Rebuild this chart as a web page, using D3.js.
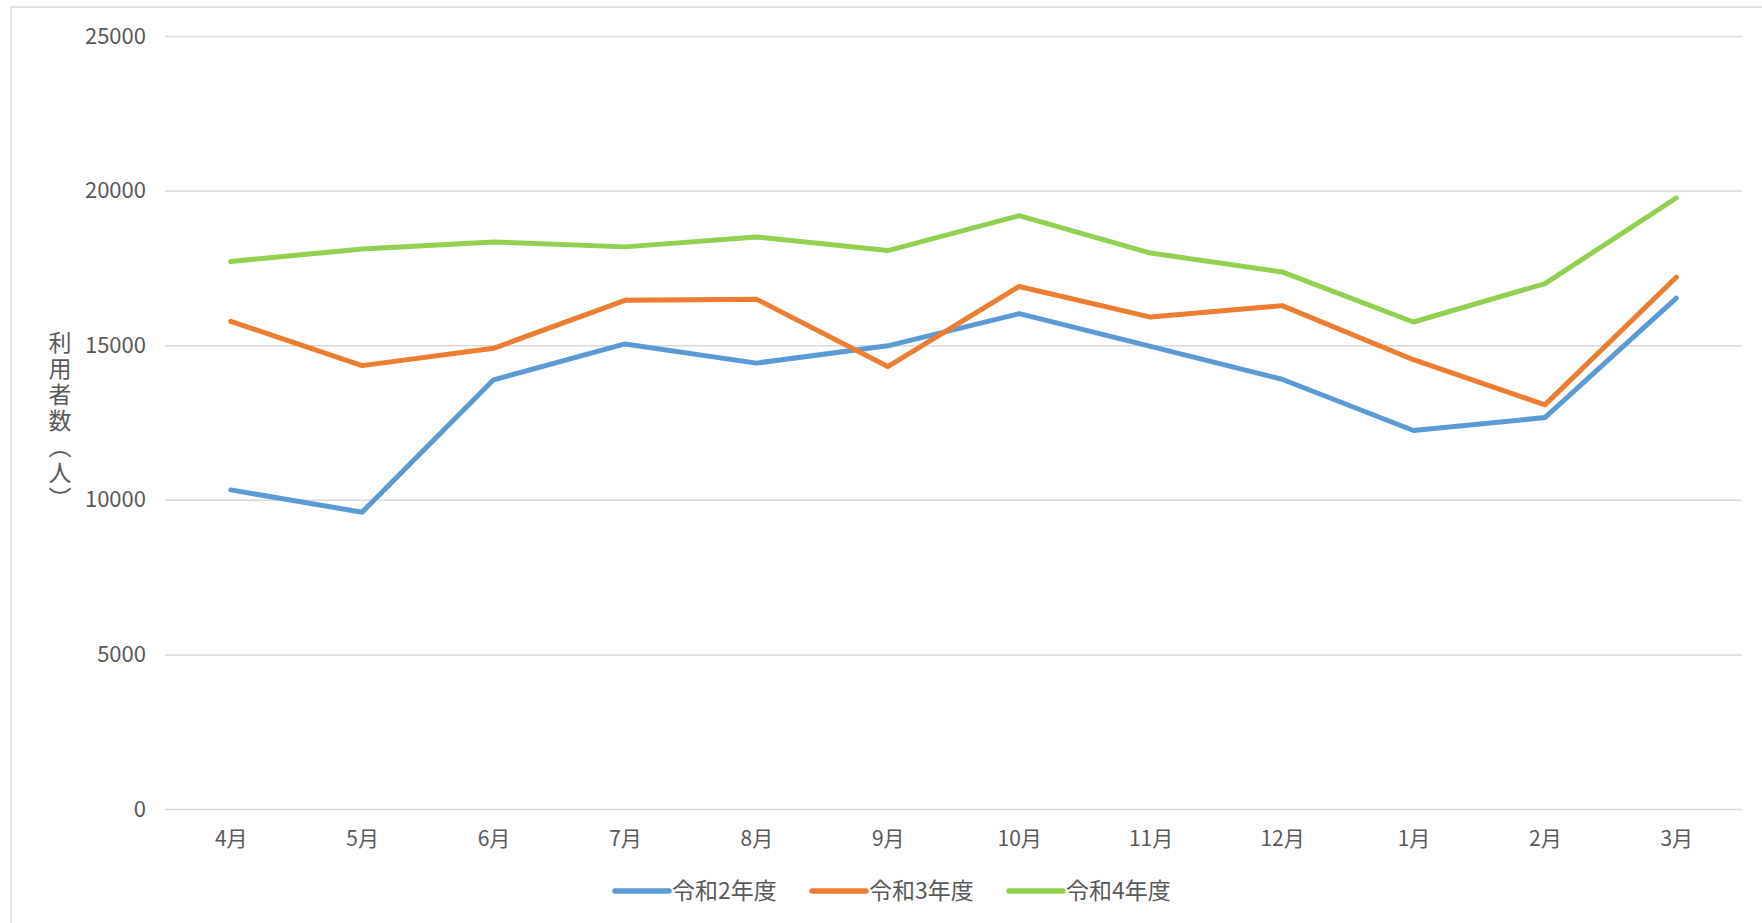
<!DOCTYPE html>
<html>
<head>
<meta charset="utf-8">
<script src="https://cdn.jsdelivr.net/npm/d3@7"></script>
<style>
  html, body { margin: 0; padding: 0; background: #fff; }
  svg text { font-family: "Noto Sans CJK JP", "Noto Sans", sans-serif; }
</style>
</head>
<body>
<svg id="chart" width="1762" height="923"></svg>
<script>
// 月別利用者数
var months = ["4月", "5月", "6月", "7月", "8月", "9月", "10月", "11月", "12月", "1月", "2月", "3月"];
var seriesNames = ["令和2年度", "令和3年度", "令和4年度"];
var r2 = [10320, 9600, 13880, 15040, 14420, 14980, 16020, 14960, 13900, 12240, 12660, 16520];
var r3 = [15770, 14340, 14900, 16450, 16490, 14310, 16900, 15910, 16280, 14530, 13070, 17200];
var r4 = [17710, 18110, 18340, 18180, 18500, 18060, 19190, 17980, 17370, 15750, 16990, 19760];
var yTicks = [0, 5000, 10000, 15000, 20000, 25000];

var colors = ["#5B9BD5", "#ED7D31", "#92D050"],
    series = [r2, r3, r4];

var svg = d3.select("#chart"),
    width = +svg.attr("width"),
    height = +svg.attr("height");

var plot = { left: 165, right: 1742, top: 36, bottom: 809 };

var x = d3.scalePoint()
    .domain(months)
    .range([plot.left, plot.right])
    .padding(0.5);

var y = d3.scaleLinear()
    .domain([0, 25000])
    .range([plot.bottom, plot.top]);

// chart border
svg.append("rect")
    .attr("x", 11)
    .attr("y", 7)
    .attr("width", width)
    .attr("height", height)
    .attr("fill", "none")
    .attr("stroke", "#D9D9D9")
    .attr("stroke-width", 1.5);

// gridlines + y labels
var yAxis = d3.axisLeft(y)
    .tickValues(yTicks)
    .tickFormat(d3.format("d"))
    .tickSize(-(plot.right - plot.left))
    .tickPadding(19);

var gy = svg.append("g")
    .attr("transform", "translate(" + plot.left + ",0)")
    .call(yAxis);
gy.select(".domain").remove();
gy.selectAll(".tick line")
    .attr("stroke", "#D9D9D9")
    .attr("stroke-width", 1.5);
gy.selectAll(".tick text")
    .attr("fill", "#595959")
    .style("font-size", "22px");

// x labels
var xAxis = d3.axisBottom(x)
    .tickSize(0)
    .tickPadding(22);

var gx = svg.append("g")
    .attr("transform", "translate(0," + plot.bottom + ")")
    .call(xAxis);
gx.select(".domain").remove();
gx.selectAll(".tick text")
    .attr("fill", "#595959")
    .style("font-size", "21px");

// y title (vertical)
svg.append("text")
    .attr("x", 60)
    .attr("y", 422)
    .attr("text-anchor", "middle")
    .attr("fill", "#595959")
    .style("font-size", "23px")
    .style("letter-spacing", "3px")
    .style("writing-mode", "vertical-rl")
    .style("text-orientation", "upright")
    .text("利用者数（人）");

// lines
var line = d3.line()
    .x(function (d, i) { return x(months[i]); })
    .y(function (d) { return y(d); });

series.forEach(function (s, i) {
    svg.append("path")
        .datum(s)
        .attr("d", line)
        .attr("fill", "none")
        .attr("stroke", colors[i])
        .attr("stroke-width", 5)
        .attr("stroke-linejoin", "round")
        .attr("stroke-linecap", "round");
});

// legend
var legend = svg.append("g")
    .attr("transform", "translate(615,891)");

seriesNames.forEach(function (name, i) {
    var g = legend.append("g")
        .attr("transform", "translate(" + (i * 197) + ",0)");
    g.append("line")
        .attr("x1", 0)
        .attr("x2", 54)
        .attr("stroke", colors[i])
        .attr("stroke-width", 5.5)
        .attr("stroke-linecap", "round");
    g.append("text")
        .attr("x", 57)
        .attr("dy", "0.35em")
        .attr("fill", "#595959")
        .style("font-size", "23px")
        .text(name);
});
</script>
</body>
</html>
